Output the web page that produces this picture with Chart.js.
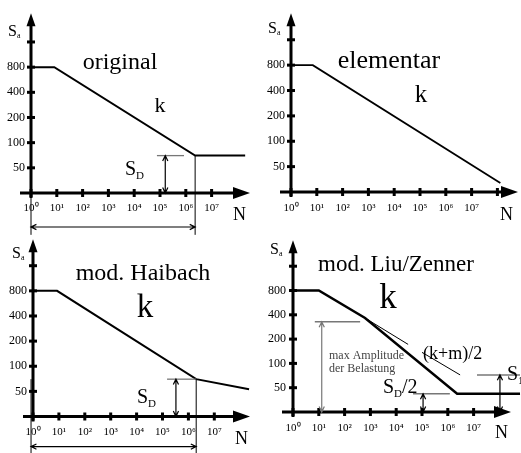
<!DOCTYPE html>
<html>
<head>
<meta charset="utf-8">
<script src="https://cdn.jsdelivr.net/npm/chart.js@4.4.1/dist/chart.umd.min.js"></script>
<style>
body{margin:0;background:#fff;width:521px;height:453px;position:relative;overflow:hidden}
canvas{position:absolute}
</style>
</head>
<body>
<canvas id="c1" width="260" height="242" style="left:0;top:0"></canvas>
<canvas id="c2" width="261" height="226" style="left:260px;top:0"></canvas>
<canvas id="c3" width="260" height="227" style="left:0;top:226px"></canvas>
<canvas id="c4" width="261" height="227" style="left:260px;top:226px"></canvas>
<script>
// axes
let xTicks = [1, 1e1, 1e2, 1e3, 1e4, 1e5, 1e6, 1e7, 1e8]
let xTickLabels = ['10⁰','10¹','10²','10³','10⁴','10⁵','10⁶','10⁷','']
let yTicks = [50, 100, 200, 400, 800, 1600]
let yTickLabels = ['50','100','200','400','800','']

// Woehler lines (N, S_a)
let origN = [1, 8, 2.3e6, 2e8]
let origS = [800, 800, 70, 70]

let elemN = [1, 7, 1.3e8]
let elemS = [800, 800, 32]

let haiN = [1, 8.5, 2e6, 2.2e8]
let haiS = [800, 800, 70, 53]

let liuN = [1, 10, 620, 2.3e6, 6.3e8]
let liuS = [800, 800, 365, 42, 42]
// thin line with slope k (interrupted at the label)
let liuK1N = [620, 2.9e4]
let liuK1S = [365, 172]
let liuK2N = [1e5, 3e6]
let liuK2S = [137, 72]

let SD = 70
let SDhalf = 42
let S1 = 72
let SAmp = 327

let FONT = '"Liberation Serif", "Times New Roman", serif'

let panels = [
{
  id:'c1', w:260, h:242, area:{left:31, top:13, right:250, bottom:193}, decade:25.8, dbl:25.2, over:11, xpad:9, ypad:6,
  curves:[{n:origN, s:origS, w:2}],
  lines:[
    {n:[7.6e4, 8.5e5], s:[SD, SD], c:'#777', w:1.3},
    {n:[origN[2], origN[2]], s:[SD, 7.9], c:'#000', w:1},
    {n:[1, 1], s:[25, 7.9], c:'#000', w:1}
  ],
  arrows:[
    {n:[1.6e5, 1.6e5], s:[SD, 25], c:'#000'},
    {n:[1, origN[2]], s:[9.8, 9.8], c:'#000'}
  ],
  texts:[
    {t:'original', x:120, y:69, size:24, align:'center'},
    {t:'k', x:160, y:112, size:22, align:'center'},
    {t:'S', sub:'D', x:125, y:175, size:20, subSize:11, drop:4},
    {t:'N', x:233, y:220, size:18},
    {t:'S', sub:'a', x:8, y:36, size:16, subSize:8, drop:2}
  ]
},
{
  id:'c2', w:261, h:226, area:{left:31, top:13, right:258, bottom:192}, decade:25.8, dbl:25.4, over:11, xpad:10, ypad:6,
  curves:[{n:elemN, s:elemS, w:1.8}],
  lines:[], arrows:[],
  texts:[
    {t:'elementar', x:129, y:68, size:26, align:'center'},
    {t:'k', x:161, y:102, size:25, align:'center'},
    {t:'N', x:240, y:220, size:18},
    {t:'S', sub:'a', x:8, y:33, size:16, subSize:8, drop:2}
  ]
},
{
  id:'c3', w:260, h:227, area:{left:33, top:12, right:250, bottom:190.5}, decade:25.9, dbl:25.3, over:10, xpad:9, ypad:6,
  curves:[{n:haiN, s:haiS, w:2}],
  lines:[
    {n:[1.5e5, haiN[2]], s:[SD, SD], c:'#777', w:1.3},
    {n:[haiN[2], haiN[2]], s:[SD, 8], c:'#000', w:1},
    {n:[0.84, 0.84], s:[SD, 8], c:'#000', w:1}
  ],
  arrows:[
    {n:[3.3e5, 3.3e5], s:[SD, 25], c:'#000'},
    {n:[0.84, haiN[2]], s:[10.9, 10.9], c:'#000'}
  ],
  texts:[
    {t:'mod. Haibach', x:143, y:54, size:24, align:'center'},
    {t:'k', x:145, y:91, size:33, align:'center'},
    {t:'S', sub:'D', x:137, y:177, size:20, subSize:11, drop:4},
    {t:'N', x:235, y:218, size:18},
    {t:'S', sub:'a', x:12, y:32, size:16, subSize:8, drop:2}
  ]
},
{
  id:'c4', w:261, h:227, area:{left:33, top:5, right:251, bottom:186}, decade:25.8, dbl:25.6, over:11, xpad:10, ypad:7,
  curves:[{n:liuN, s:liuS, w:2.5}, {n:liuK1N, s:liuK1S, w:1}, {n:liuK2N, s:liuK2S, w:1}],
  lines:[
    {n:[7, 400], s:[SAmp, SAmp], c:'#777', w:1.5},
    {n:[4.5e4, 1.2e6], s:[SDhalf, SDhalf], c:'#777', w:1.5},
    {n:[1.35e7, 6.3e8], s:[S1, S1], c:'#777', w:1.5}
  ],
  arrows:[
    {n:[13, 13], s:[SAmp, 25], c:'#777'},
    {n:[1.1e5, 1.1e5], s:[SDhalf, 25], c:'#000'},
    {n:[1.05e8, 1.05e8], s:[S1, 25], c:'#000'}
  ],
  texts:[
    {t:'mod. Liu/Zenner', x:136, y:45, size:23, align:'center'},
    {t:'k', x:128, y:82, size:35, align:'center'},
    {t:'max Amplitude', x:69, y:133, size:12, color:'#444'},
    {t:'der Belastung', x:69, y:146, size:12, color:'#444'},
    {t:'(k+m)/2', x:163, y:133, size:18},
    {t:'S', sub:'D', tail:'/2', x:123, y:167, size:20, subSize:11, drop:4},
    {t:'S', sub:'1', x:247, y:154, size:20, subSize:11, drop:4},
    {t:'N', x:235, y:212, size:18},
    {t:'S', sub:'a', x:10, y:28, size:16, subSize:8, drop:2}
  ]
}
]

function head(ctx, x, y, ang){
  ctx.moveTo(x + 6*Math.cos(ang + 0.45), y + 6*Math.sin(ang + 0.45))
  ctx.lineTo(x, y)
  ctx.lineTo(x + 6*Math.cos(ang - 0.45), y + 6*Math.sin(ang - 0.45))
}

function drawText(ctx, t){
  ctx.font = t.size + 'px ' + FONT
  ctx.textAlign = t.align || 'left'
  ctx.textBaseline = 'alphabetic'
  ctx.fillStyle = t.color || '#000'
  ctx.fillText(t.t, t.x, t.y)
  if (t.sub){
    let w = ctx.measureText(t.t).width
    ctx.font = t.subSize + 'px ' + FONT
    ctx.textAlign = 'left'
    ctx.fillText(t.sub, t.x + w, t.y + t.drop)
    if (t.tail){
      let w2 = ctx.measureText(t.sub).width
      ctx.font = t.size + 'px ' + FONT
      ctx.fillText(t.tail, t.x + w + w2, t.y)
    }
  }
}

function deco(p){
  return {
    id:'deco_' + p.id,
    beforeDatasetsDraw(chart){
      let ctx = chart.ctx, xs = chart.scales.x, ys = chart.scales.y
      let x0 = xs.getPixelForValue(1), y0 = ys.getPixelForValue(25)
      ctx.save()
      ctx.fillStyle = '#000'
      ctx.strokeStyle = '#000'
      ctx.lineWidth = 3
      ctx.beginPath()
      ctx.moveTo(x0 - p.over, y0); ctx.lineTo(xs.right - 12, y0)
      ctx.moveTo(x0, y0 + 5); ctx.lineTo(x0, ys.top + 10)
      ctx.stroke()
      ctx.beginPath()
      ctx.moveTo(xs.right, y0); ctx.lineTo(xs.right - 17, y0 - 6); ctx.lineTo(xs.right - 17, y0 + 6); ctx.closePath()
      ctx.moveTo(x0, ys.top); ctx.lineTo(x0 - 4.5, ys.top + 13); ctx.lineTo(x0 + 4.5, ys.top + 13); ctx.closePath()
      ctx.fill()
      xs.ticks.forEach(t => {
        let x = xs.getPixelForValue(t.value)
        if (x < xs.right - 18) ctx.fillRect(x - 1.5, y0 - 4, 3, 8)
      })
      ys.ticks.forEach(t => {
        let y = ys.getPixelForValue(t.value)
        if (y > ys.top + 14) ctx.fillRect(x0 - 4, y - 1.5, 8, 3)
      })
      ctx.restore()
    },
    afterDatasetsDraw(chart){
      let ctx = chart.ctx, xs = chart.scales.x, ys = chart.scales.y
      ctx.save()
      p.lines.forEach(l => {
        ctx.strokeStyle = l.c; ctx.lineWidth = l.w
        ctx.beginPath()
        ctx.moveTo(xs.getPixelForValue(l.n[0]), ys.getPixelForValue(l.s[0]))
        ctx.lineTo(xs.getPixelForValue(l.n[1]), ys.getPixelForValue(l.s[1]))
        ctx.stroke()
      })
      p.arrows.forEach(a => {
        let xa = xs.getPixelForValue(a.n[0]), ya = ys.getPixelForValue(a.s[0])
        let xb = xs.getPixelForValue(a.n[1]), yb = ys.getPixelForValue(a.s[1])
        let ang = Math.atan2(yb - ya, xb - xa)
        ctx.strokeStyle = a.c; ctx.lineWidth = 1.2
        ctx.beginPath()
        ctx.moveTo(xa, ya); ctx.lineTo(xb, yb)
        head(ctx, xa, ya, ang)
        head(ctx, xb, yb, ang + Math.PI)
        ctx.stroke()
      })
      p.texts.forEach(t => drawText(ctx, t))
      ctx.restore()
    }
  }
}

panels.forEach(p => {
  let xMax = Math.pow(10, (p.area.right - p.area.left) / p.decade)
  let yMax = 25 * Math.pow(2, (p.area.bottom - p.area.top) / p.dbl)
  new Chart(document.getElementById(p.id), {
    type:'line',
    data:{
      datasets: p.curves.map(c => ({
        data: c.n.map((n, i) => ({x:n, y:c.s[i]})),
        borderColor:'#000',
        borderWidth:c.w,
        pointRadius:0,
        fill:false,
        tension:0,
        clip:false
      }))
    },
    options:{
      responsive:false,
      animation:false,
      events:[],
      layout:{padding:{left:0, top:p.area.top, right:p.w - p.area.right, bottom:0}},
      plugins:{legend:{display:false}, tooltip:{enabled:false}},
      scales:{
        x:{
          type:'logarithmic', min:1, max:xMax, bounds:'data',
          afterBuildTicks: s => { s.ticks = xTicks.map(v => ({value:v})) },
          afterFit: s => { s.height = p.h - p.area.bottom },
          grid:{display:false, drawTicks:false},
          border:{display:false},
          ticks:{autoSkip:false, maxRotation:0, padding:p.xpad, color:'#000',
            font:{family:FONT, size:11},
            callback:(v, i) => xTickLabels[i]}
        },
        y:{
          type:'logarithmic', min:25, max:yMax, bounds:'data',
          afterBuildTicks: s => { s.ticks = yTicks.map(v => ({value:v})) },
          afterFit: s => { s.width = p.area.left },
          grid:{display:false, drawTicks:false},
          border:{display:false},
          ticks:{autoSkip:false, padding:p.ypad, color:'#000',
            font:{family:FONT, size:12},
            callback:(v, i) => yTickLabels[i]}
        }
      }
    },
    plugins:[deco(p)]
  })
})
</script>
</body>
</html>
